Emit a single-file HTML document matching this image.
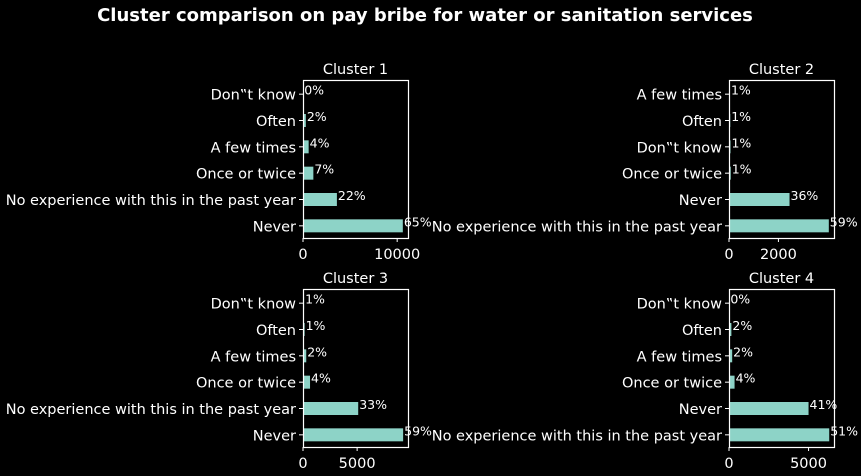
<!DOCTYPE html>
<html><head><meta charset="utf-8"><style>
body{margin:0;background:#000;}
svg{display:block;font-family:"DejaVu Sans","Liberation Sans",sans-serif;}
</style></head><body>
<svg id="c" width="861" height="476">
<text x="425" y="21" fill="#fff" font-size="18" font-weight="bold" text-anchor="middle">Cluster comparison on pay bribe for water or sanitation services</text>
</svg>
<script>
const cats1 = ["Never","No experience with this in the past year","Once or twice","A few times","Often","Don‟t know"];
const vals1 = [10600,3600,1100,600,300,20];
const pct1 = ["65%","22%","7%","4%","2%","0%"];
const cats2 = ["No experience with this in the past year","Never","Once or twice","Don‟t know","Often","A few times"];
const vals2 = [4040,2450,70,60,50,40];
const pct2 = ["59%","36%","1%","1%","1%","1%"];
const cats3 = ["Never","No experience with this in the past year","Once or twice","A few times","Often","Don‟t know"];
const vals3 = [9250,5100,650,300,150,100];
const pct3 = ["59%","33%","4%","2%","1%","1%"];
const cats4 = ["No experience with this in the past year","Never","Once or twice","A few times","Often","Don‟t know"];
const vals4 = [6300,5000,350,200,150,20];
const pct4 = ["51%","41%","4%","2%","2%","0%"];
const ticks1=[0,10000], ticks2=[0,2000], ticks3=[0,5000], ticks4=[0,5000];
const panels=[
 {t:"Cluster 1",c:cats1,v:vals1,p:pct1,k:ticks1,x:303,y:80,max:11150},
 {t:"Cluster 2",c:cats2,v:vals2,p:pct2,k:ticks2,x:729,y:80,max:4250},
 {t:"Cluster 3",c:cats3,v:vals3,p:pct3,k:ticks3,x:303,y:289,max:9700},
 {t:"Cluster 4",c:cats4,v:vals4,p:pct4,k:ticks4,x:729,y:289,max:6600}];
const NS="http://www.w3.org/2000/svg", svg=document.getElementById('c');
function mk(tag,a,txt){const e=document.createElementNS(NS,tag);for(const k in a)e.setAttribute(k,a[k]);if(txt!=null)e.textContent=txt;svg.appendChild(e);return e;}
const W=105,H=158;
panels.forEach((P,pi)=>{
 const sx=v=>P.x+v/P.max*W;
 const band=H/P.c.length;
 const cy=i=>P.y+H-band*(i+0.5)+1;
 let e=mk('text',{x:P.x+W/2,y:P.y-6,fill:'#fff','font-size':14.5,'text-anchor':'middle'},P.t);
 
 
 P.v.forEach((v,i)=>{
  const b=mk('rect',{x:sx(0),y:cy(i)-6.5,width:sx(v)-sx(0),height:13,fill:'#8dd3c7'});
  
  
  const l=mk('text',{x:sx(v)+1,y:cy(i)+0.5,fill:'#fff','font-size':12.5},P.p[i]);
  
  
  mk('line',{x1:P.x-4,x2:P.x,y1:cy(i),y2:cy(i),stroke:'#fff'});
  const c=mk('text',{x:P.x-7,y:cy(i)+5.5,fill:'#fff','font-size':14.5,'text-anchor':'end'},P.c[i]);
  
  
 });
 const f=mk('rect',{x:P.x+0.5,y:P.y+0.5,width:W,height:H,fill:'none',stroke:'#fff','stroke-width':1.2});
 
 
 P.k.forEach(t=>{
  mk('line',{x1:sx(t),x2:sx(t),y1:P.y+H,y2:P.y+H+4,stroke:'#fff'});
  const tl=mk('text',{x:sx(t),y:P.y+H+21,fill:'#fff','font-size':14.5,'text-anchor':'middle'},String(t));
  
  
 });
});
</script>
</body></html>
